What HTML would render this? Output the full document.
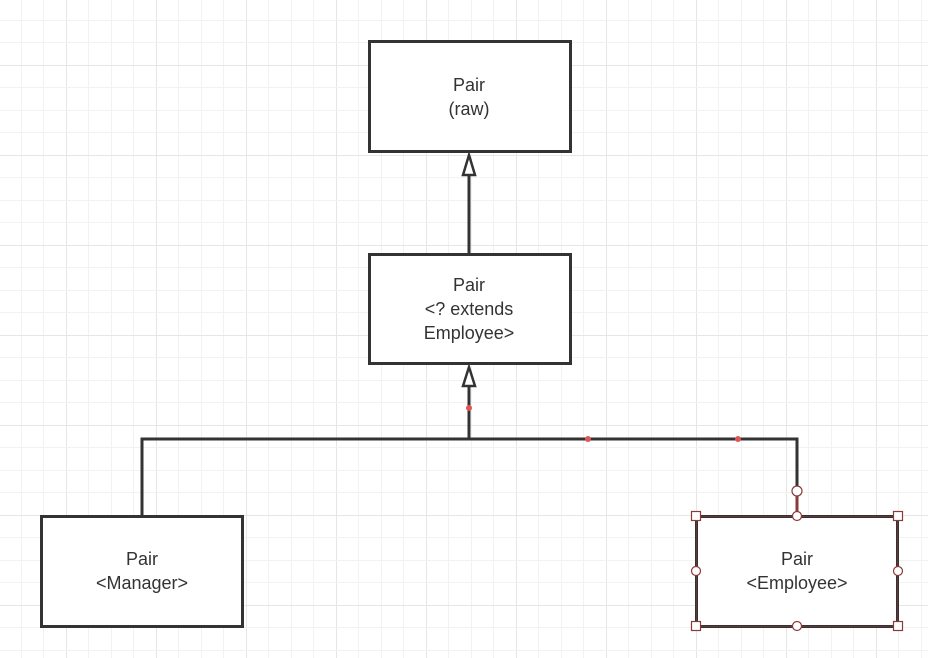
<!DOCTYPE html>
<html><head><meta charset="utf-8"><style>
html,body{margin:0;padding:0;background:#fff;width:928px;height:658px;overflow:hidden;}
body{position:relative;}
svg{position:absolute;left:0;top:0;display:block;}
.t{font-family:"Liberation Sans","DejaVu Sans",sans-serif;font-size:18px;fill:#333;text-anchor:middle;}
</style></head><body>
<svg width="928" height="658" viewBox="0 0 928 658" xmlns="http://www.w3.org/2000/svg">
<g id="grid"></g>
<g fill="#fff" stroke="#333" stroke-width="3">
<rect x="369.5" y="41.5" width="201" height="110"/>
<rect x="369.5" y="254.5" width="201" height="109"/>
<rect x="41.5" y="516.5" width="201" height="110"/>
<rect x="696.5" y="516.5" width="201" height="110"/>
</g>
<g fill="none" stroke="#333" stroke-width="3">
<line x1="469" y1="175" x2="469" y2="254"/>
<line x1="469" y1="386" x2="469" y2="439"/>
<polyline points="142,516 142,439 797,439 797,486"/>
<polygon points="469,155 463,175 475,175" fill="#fff" stroke-width="2.5"/>
<polygon points="469,367 463,386 475,386" fill="#fff" stroke-width="2.5"/>
</g>
<line x1="797" y1="496" x2="797" y2="516" stroke="#8b3a3a" stroke-width="3"/>
<g fill="#e05555"><circle cx="469" cy="408" r="3"/><circle cx="588" cy="439" r="3"/><circle cx="738" cy="439" r="3"/></g>
<rect x="696.5" y="516.5" width="201" height="110" fill="none" stroke="#8b3a3a" stroke-width="1" opacity="0.6"/>
<g fill="#fff" stroke="#8b3a3a" stroke-width="1.2">
<circle cx="797" cy="491" r="5"/>
<rect x="691.5" y="511.5" width="9" height="9"/><rect x="893.5" y="511.5" width="9" height="9"/>
<rect x="691.5" y="621.5" width="9" height="9"/><rect x="893.5" y="621.5" width="9" height="9"/>
<circle cx="797" cy="516" r="4.5"/><circle cx="797" cy="626" r="4.5"/>
<circle cx="696" cy="571" r="4.5"/><circle cx="898" cy="571" r="4.5"/>
</g>
<text class="t" x="469" y="91">Pair</text><text class="t" x="469" y="115">(raw)</text>
<text class="t" x="469" y="291">Pair</text><text class="t" x="469" y="315">&lt;? extends</text><text class="t" x="469" y="339">Employee&gt;</text>
<text class="t" x="142" y="565">Pair</text><text class="t" x="142" y="589">&lt;Manager&gt;</text>
<text class="t" x="797" y="565">Pair</text><text class="t" x="797" y="589">&lt;Employee&gt;</text>
</svg>
<script>
var g=document.getElementById('grid'),s='';
for(var k=0;k<42;k++){var x=Math.round(20.7+22.5*k)+0.5;var maj=((k-2)%4+4)%4==0;s+='<line x1="'+x+'" y1="0" x2="'+x+'" y2="658" stroke="'+(maj?'#e6e6e6':'#f2f2f2')+'" stroke-width="1"/>';}
for(var k=0;k<30;k++){var y=Math.round(19.5+22.5*k)+0.5;var maj=((k-2)%4+4)%4==0;s+='<line x1="0" y1="'+y+'" x2="928" y2="'+y+'" stroke="'+(maj?'#e6e6e6':'#f2f2f2')+'" stroke-width="1"/>';}
g.innerHTML=s;
</script>
</body></html>
